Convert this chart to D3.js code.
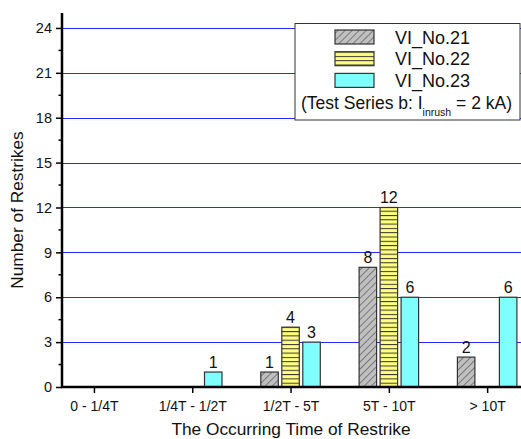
<!DOCTYPE html>
<html><head><meta charset="utf-8">
<script src="https://cdn.jsdelivr.net/npm/d3@7"></script>
<style>body{margin:0;background:#fff}svg{display:block;font-family:"Liberation Sans",Arial,sans-serif}</style>
</head><body>
<svg id="c" width="521" height="439"></svg>
<script>
const categories = ["0 - 1/4T", "1/4T - 1/2T", "1/2T - 5T", "5T - 10T", "> 10T"];
const seriesNames = ["VI_No.21", "VI_No.22", "VI_No.23"];
const vi21 = [0, 0, 1, 8, 2];
const vi22 = [0, 0, 4, 12, 0];
const vi23 = [0, 1, 3, 6, 6];
const yTicks = [0, 3, 6, 9, 12, 15, 18, 21, 24];

const FF = "'Liberation Sans',Arial,sans-serif";
const series = [vi21, vi22, vi23];
const svg = d3.select("#c");
const defs = svg.append("defs");
const p1 = defs.append("pattern").attr("id","hatchD").attr("patternUnits","userSpaceOnUse").attr("width",5).attr("height",5).attr("patternTransform","rotate(45)");
p1.append("rect").attr("width",5).attr("height",5).attr("fill","#c0c0c0");
p1.append("line").attr("x1",0).attr("y1",0).attr("x2",0).attr("y2",5).attr("stroke","#333").attr("stroke-width",1);
const p2 = defs.append("pattern").attr("id","hatchH").attr("patternUnits","userSpaceOnUse").attr("width",4).attr("height",4.3);
p2.append("rect").attr("width",4).attr("height",4.3).attr("fill","#ffff80");
p2.append("line").attr("x1",0).attr("y1",0.5).attr("x2",4).attr("y2",0.5).attr("stroke","#333").attr("stroke-width",1);
const fills = ["url(#hatchD)", "url(#hatchH)", "#80ffff"];

const x0 = 62, yBase = 387;
const x = d3.scaleLinear().domain([0.675, 5.5]).range([x0, x0 + 4.825*98.3]);
const y = d3.scaleLinear().domain([0, 25]).range([yBase, yBase - 25*14.96]);
const off = [-0.2136, 0, 0.2136], bw = 0.178;

// grid
svg.append("g").selectAll("line").data(yTicks.filter(d=>d>0)).join("line")
  .attr("x1", x0).attr("x2", 521).attr("y1", d=>Math.round(y(d))+0.5).attr("y2", d=>Math.round(y(d))+0.5)
  .attr("stroke","#2a2aff").attr("stroke-width",1.2);

// bars
series.forEach((vals, s) => {
  const g = svg.append("g");
  vals.forEach((v, i) => {
    if (v <= 0) return;
    const cx = x(i+1+off[s]);
    const w = x(bw) - x(0);
    g.append("rect").attr("x", cx - w/2).attr("y", y(v)).attr("width", w).attr("height", y(0)-y(v))
      .attr("fill", fills[s]).attr("stroke","#333").attr("stroke-width",1.2);
    g.append("text").attr("x", cx).attr("y", y(v)-4).attr("text-anchor","middle")
      .attr("font-size",16).attr("fill","#111").text(v);
  });
});

// axes
const yAxis = d3.axisLeft(y).tickValues(yTicks).tickSize(6).tickPadding(4);
const ya = svg.append("g").attr("transform",`translate(${x0},0)`).call(yAxis);
ya.selectAll("text").attr("font-size",14.5).attr("fill","#111").attr("font-family",FF);
ya.select(".domain").remove();
svg.append("g").selectAll("line").data(d3.range(1.5, 25, 3)).join("line")
  .attr("x1", x0-3.5).attr("x2", x0).attr("y1", d=>y(d)).attr("y2", d=>y(d)).attr("stroke","#000").attr("stroke-width",1.5);
ya.selectAll(".tick line").attr("stroke-width",1.5);

const xAxis = d3.axisBottom(x).tickValues([1,2,3,4,5]).tickFormat((d,i)=>categories[i]).tickSize(6).tickPadding(8);
const xa = svg.append("g").attr("transform",`translate(0,${yBase})`).call(xAxis);
xa.selectAll("text").attr("font-size",14).attr("fill","#111").attr("font-family",FF);
xa.select(".domain").remove();
xa.selectAll(".tick line").attr("stroke-width",1.5);

svg.append("line").attr("x1",x0).attr("x2",x0).attr("y1",yBase+1).attr("y2",y(25)).attr("stroke","#000").attr("stroke-width",2.5);
svg.append("line").attr("x1",x0-1).attr("x2",521).attr("y1",yBase).attr("y2",yBase).attr("stroke","#000").attr("stroke-width",2.5);

// titles
svg.append("text").attr("x", 291).attr("y", 435).attr("text-anchor","middle").attr("font-size",17.3).attr("fill","#111").text("The Occurring Time of Restrike");
svg.append("text").attr("transform",`translate(23,${(yBase+y(25))/2+10}) rotate(-90)`).attr("text-anchor","middle").attr("font-size",17.3).attr("fill","#111").text("Number of Restrikes");

// legend
const lg = svg.append("g");
lg.append("rect").attr("x",295).attr("y",23.5).attr("width",225).attr("height",96.5).attr("fill","#fff").attr("stroke","#333").attr("stroke-width",1);
seriesNames.forEach((n, s) => {
  const ry = 30 + s*21.7;
  lg.append("rect").attr("x",335).attr("y",ry).attr("width",39).attr("height",14).attr("fill",fills[s]).attr("stroke","#333").attr("stroke-width",1.2);
  lg.append("text").attr("x",395).attr("y",ry+13.5).attr("font-size",18).attr("fill","#111").text(n);
});
const t = lg.append("text").attr("x",301).attr("y",109).attr("font-size",17.5).attr("fill","#111");
t.append("tspan").text("(Test Series b: I");
t.append("tspan").attr("font-size",10.5).attr("dy",7).text("inrush");
t.append("tspan").attr("dy",-7).text(" = 2 kA)");
</script>
</body></html>
